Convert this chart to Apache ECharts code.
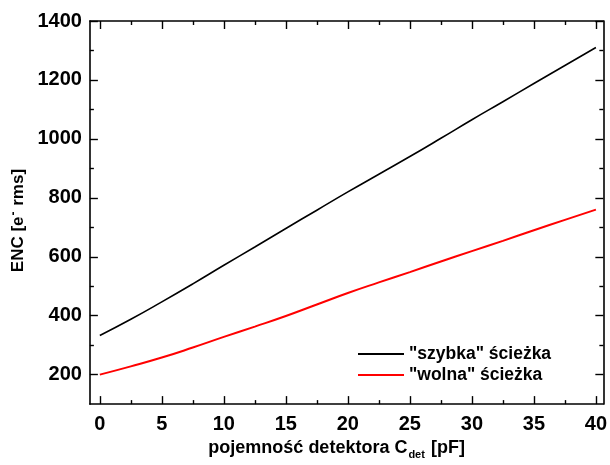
<!DOCTYPE html>
<html>
<head>
	<meta charset="utf-8">
	<title>ENC vs Cdet</title>
	<script src="https://cdn.jsdelivr.net/npm/echarts@6/dist/echarts.min.js"></script>
	<style>
		html, body {margin:0;padding:0;background:#fff;}
		#chart {width:610px;height:465px;}
	</style>
</head>
<body>
<div id="chart"></div>
<script>
	// pojemność detektora [pF]
	var capacitance = [0, 2.5, 5, 7.5, 10, 12.5, 15, 17.5, 20, 22.5, 25, 27.5, 30, 32.5, 35, 37.5, 40];
	// ENC [e- rms]
	var fastPath = [333, 388, 447, 508, 571, 633, 696, 758, 820, 880, 940, 1002, 1065, 1126, 1188, 1249, 1310];
	var slowPath = [200, 228, 258, 292, 328, 363, 399, 438, 477, 513, 548, 584, 619, 654, 690, 725, 760];

	var seriesNames = ['"szybka" ścieżka', '"wolna" ścieżka'];

	var xTicks = [0, 5, 10, 15, 20, 25, 30, 35, 40];
	var xMinorTicks = [2.5, 7.5, 12.5, 17.5, 22.5, 27.5, 32.5, 37.5];
	var yTicks = [200, 400, 600, 800, 1000, 1200, 1400];
	var yMinorTicks = [300, 500, 700, 900, 1100, 1300];

	var font = 'Liberation Sans';
	var xMin = -0.8, xMax = 40.6, yMin = 100, yMax = 1400;

	function pairs(xs, ys) {
		return xs.map(function (x, i) { return [x, ys[i]]; });
	}

	function xAxis(pos, ticks, len, showLine, showLabel, extra) {
		var a = {
			type: 'value', position: pos, min: xMin, max: xMax,
			splitLine: {show: false},
			axisLine: {show: showLine, onZero: false, lineStyle: {color: '#000', width: 1.6}},
			axisTick: {show: true, inside: true, length: len, customValues: ticks, lineStyle: {color: '#000', width: 1.4}},
			axisLabel: {show: showLabel, customValues: ticks, margin: 10, color: '#000', fontFamily: font, fontWeight: 'bold', fontSize: 20,
				formatter: function (v) { return String(v); }}
		};
		return Object.assign(a, extra || {});
	}

	function yAxis(pos, ticks, len, showLine, showLabel, extra) {
		var a = {
			type: 'value', position: pos, min: yMin, max: yMax,
			splitLine: {show: false},
			axisLine: {show: showLine, onZero: false, lineStyle: {color: '#000', width: 1.6}},
			axisTick: {show: true, inside: true, length: len, customValues: ticks, lineStyle: {color: '#000', width: 1.4}},
			axisLabel: {show: showLabel, customValues: ticks, margin: 8, color: '#000', fontFamily: font, fontWeight: 'bold', fontSize: 20,
				formatter: function (v) { return String(v); }}
		};
		return Object.assign(a, extra || {});
	}

	var chart = echarts.init(document.getElementById('chart'));

	var option = {
		animation: false,
		backgroundColor: '#fff',
		grid: {left: 88, right: 4, top: 21, bottom: 58, containLabel: false},
		legend: {
			orient: 'vertical',
			left: 352,
			top: 340,
			itemWidth: 46,
			itemHeight: 14,
			itemGap: 3,
			data: seriesNames,
			itemStyle: {opacity: 0},
			textStyle: {color: '#000', fontFamily: font, fontWeight: 'bold', fontSize: 17.5}
		},
		xAxis: [
			xAxis('bottom', xTicks, 8, true, true, {
				name: '{a|pojemność detektora C}{b|det}{a| [pF]}',
				nameLocation: 'middle',
				nameGap: 34,
				nameTextStyle: {
					padding: [0, 20, 0, 0],
					rich: {
						a: {fontFamily: font, fontWeight: 'bold', fontSize: 18, color: '#000', lineHeight: 18, verticalAlign: 'top'},
						b: {fontFamily: font, fontWeight: 'bold', fontSize: 11, color: '#000', lineHeight: 11, verticalAlign: 'top', padding: [10, 1, 0, 1]}
					}
				}
			}),
			xAxis('top', xTicks, 8, true, false),
			xAxis('bottom', xMinorTicks, 4, false, false),
			xAxis('top', xMinorTicks, 4, false, false)
		],
		yAxis: [
			yAxis('left', yTicks, 8, true, true, {
				name: '{a|ENC [e}{b|-}{a| rms]}',
				nameLocation: 'middle',
				nameGap: 58,
				nameTextStyle: {
					padding: [0, 16, 0, 0],
					rich: {
						a: {fontFamily: font, fontWeight: 'bold', fontSize: 17, color: '#000', lineHeight: 20},
						b: {fontFamily: font, fontWeight: 'bold', fontSize: 12, color: '#000', verticalAlign: 'top', padding: [0, 1, 0, 1]}
					}
				}
			}),
			yAxis('right', yTicks, 8, true, false),
			yAxis('left', yMinorTicks, 4, false, false),
			yAxis('right', yMinorTicks, 4, false, false)
		],
		series: [
			{
				name: seriesNames[0],
				type: 'line',
				xAxisIndex: 0,
				yAxisIndex: 0,
				data: pairs(capacitance, fastPath),
				smooth: true,
				symbol: 'none',
				lineStyle: {color: '#000', width: 1.6},
				itemStyle: {color: '#000'}
			},
			{
				name: seriesNames[1],
				type: 'line',
				xAxisIndex: 0,
				yAxisIndex: 0,
				data: pairs(capacitance, slowPath),
				smooth: true,
				symbol: 'none',
				lineStyle: {color: '#ff0000', width: 2},
				itemStyle: {color: '#ff0000'}
			}
		]
	};
	chart.setOption(option);
</script>
</body>
</html>
